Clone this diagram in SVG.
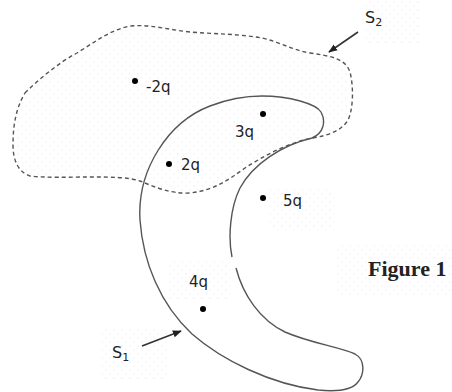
<svg xmlns="http://www.w3.org/2000/svg" width="452" height="392" viewBox="0 0 452 392">
<style>
.q{font-family:"DejaVu Sans",Verdana,sans-serif;font-size:15px;fill:#222}
.s{font-family:"DejaVu Sans",Verdana,sans-serif;font-size:16px;fill:#222}
.sub{font-size:11px}
.fig{font-family:"Liberation Serif","Times New Roman",serif;font-size:22px;font-weight:bold;fill:#222}
.dot{fill:#000}
.solid{fill:none;stroke:#555;stroke-width:1.4}
.dash{stroke:#555;stroke-width:1.4;stroke-dasharray:4,3}
.arrow{stroke:#333;stroke-width:1.6;fill:none}
</style>
<defs>
<pattern id="dots" width="8" height="8" patternUnits="userSpaceOnUse">
<circle cx="2" cy="2" r="0.8" fill="#f6d0ee"/>
<circle cx="6" cy="6" r="0.8" fill="#d2ecf8"/>
</pattern>
<marker id="ah" viewBox="0 0 10 10" refX="9" refY="5" markerWidth="9" markerHeight="9" markerUnits="userSpaceOnUse" orient="auto">
<path d="M0,1 L10,5 L0,9 Z" fill="#222"/>
</marker>
</defs>
<rect width="452" height="392" fill="#fff"/>
<g id="patches" fill="url(#dots)" opacity="0.5">
<rect x="337" y="243" width="115" height="54"/>
<rect x="268" y="188" width="66" height="42"/>
<rect x="167" y="260" width="63" height="40"/>
<rect x="100" y="327" width="67" height="53"/>
<rect x="363" y="0" width="57" height="45"/>
</g>
<g id="S2">
<path class="dash" fill="url(#dots)" fill-opacity="0.5" d="M25,93 C40,78 60,62 77,53 C95,42 110,30 130,26 C150,24 170,30 190,32 C215,34 240,34 262,38 C280,42 292,50 310,53 C330,56 345,58 350,72 C354,88 353,110 348,120 C342,130 330,135 313,138 C290,142 265,155 245,168 C228,180 215,190 190,193 C170,194 155,187 140,181 C128,177 110,177 90,177 C70,177 45,178 30,176 C18,172 13,160 13,145 C13,125 16,108 25,93 Z"/>
</g>
<g id="S1">
<path class="solid" d="M236,268 C243,295 260,320 285,332 C310,343 340,347 355,354 C366,360 364,375 358,382 C352,390 338,392 318,390 C270,384 222,360 192,334 C160,304 143,262 140,220 C137,170 168,122 210,106 C228,99 245,96 262,96 C290,96 316,104 321,112 C326,121 324,133 312,138 C282,145 253,164 240,188 C230,208 228,238 232,257"/>
</g>
<g id="charges">
<circle class="dot" cx="135" cy="81" r="3"/>
<text class="q" x="146" y="92">-2q</text>
<circle class="dot" cx="263" cy="114" r="3"/>
<text class="q" x="235" y="137">3q</text>
<circle class="dot" cx="169" cy="164" r="3"/>
<text class="q" x="181" y="170">2q</text>
<circle class="dot" cx="263" cy="198" r="3"/>
<text class="q" x="283" y="206">5q</text>
<circle class="dot" cx="203" cy="309" r="3"/>
<text class="q" x="189" y="287">4q</text>
</g>
<g id="labels">
<text class="s" x="365" y="23">S<tspan class="sub" dy="3">2</tspan></text>
<text class="s" x="112" y="358">S<tspan class="sub" dy="3">1</tspan></text>
<text class="fig" x="368" y="276">Figure 1</text>
</g>
<g id="connectors">
<path class="arrow" d="M358,32 L329,52" marker-end="url(#ah)"/>
<path class="arrow" d="M142,346 L181,331" marker-end="url(#ah)"/>
</g>
</svg>
